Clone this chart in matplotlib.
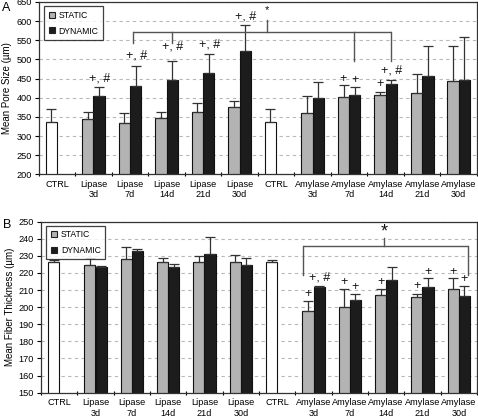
import numpy as np
import matplotlib
matplotlib.use("Agg")
import matplotlib.pyplot as plt
from matplotlib.lines import Line2D

plt.rcParams['font.family'] = ['Liberation Sans', 'DejaVu Sans']

categories = ["CTRL", "Lipase\n3d", "Lipase\n7d", "Lipase\n14d", "Lipase\n21d", "Lipase\n30d",
              "CTRL", "Amylase\n3d", "Amylase\n7d", "Amylase\n14d", "Amylase\n21d", "Amylase\n30d"]

# Panel A: mean pore size (um)
a_ctrl = 337
a_ctrl_err = 33
a_lip_static = [344, 334, 346, 362, 376]
a_lip_static_err = [20, 25, 16, 25, 16]
a_lip_dyn = [404, 430, 446, 465, 523]
a_lip_dyn_err = [25, 53, 49, 48, 66]
a_amy_static = [359, 401, 406, 413, 444]
a_amy_static_err = [45, 31, 9, 50, 90]
a_amy_dyn = [398, 406, 436, 457, 446]
a_amy_dyn_err = [43, 23, 9, 77, 112]

# Panel B: mean fiber thickness (um)
b_ctrl = 226.4
b_ctrl_err = 1.2
b_lip_static = [224.5, 228.0, 226.4, 226.4, 226.4]
b_lip_static_err = [4.5, 7.0, 2.6, 3.3, 4.3]
b_lip_dyn = [223.5, 232.8, 223.5, 231.0, 224.8]
b_lip_dyn_err = [0.5, 1.2, 1.9, 10.0, 3.7]
b_amy_static = [197.8, 200.0, 207.3, 205.7, 210.4]
b_amy_static_err = [6.0, 10.8, 3.5, 1.8, 6.8]
b_amy_dyn = [212.0, 204.0, 216.0, 212.0, 206.7]
b_amy_dyn_err = [0.6, 3.5, 7.5, 5.2, 5.5]

# annotations: (category index, series 's'/'d', text, y)
a_notes = [(1, 'd', '+, #', 451), (2, 'd', '+, #', 511), (3, 'd', '+, #', 533),
           (4, 'd', '+, #', 540), (5, 'd', '+, #', 611),
           (8, 's', '+', 449), (8, 'd', '+', 445), (9, 's', '+', 437), (9, 'd', '+, #', 472)]
b_notes = [(7, 's', '+', 208), (7, 'd', '+, #', 217.2), (8, 's', '+', 214.9), (8, 'd', '+', 211.8),
           (9, 's', '+', 214.9), (10, 's', '+', 212.6), (10, 'd', '+', 220.7),
           (11, 's', '+', 220.7), (11, 'd', '+', 216.5)]

# brackets: horizontal level, span, drops (x, y_end), star x, star top, star y
a_bracket = dict(level=571, x0=2.09, x1=9.14,
                 drops=[(2.09, 542), (3.14, 542), (8.12, 497), (9.14, 497)],
                 star_x=5.75, star_top=603, star_y=628, star_size=8)
b_bracket = dict(level=235.8, x0=6.71, x1=11.25,
                 drops=[(6.71, 218.8), (11.25, 218.8)],
                 star_x=8.94, star_top=240.5, star_y=244.2, star_size=13)

STATIC_C = '#b3b3b3'
DYN_C = '#1c1c1c'
EDGE = '#111111'
W = 0.31


def draw(ax, ctrl, ctrl_err, ls, lse, ld, lde, ams, amse, amd, amde, ylim, ystep, ylabel, notes, br):
    x = np.arange(len(categories))
    ctrl_x = [0, 6]
    s_x = [1, 2, 3, 4, 5, 7, 8, 9, 10, 11]
    s_vals = ls + ams
    s_err = lse + amse
    d_vals = ld + amd
    d_err = lde + amde
    ax.set_axisbelow(True)
    ax.yaxis.grid(True, linestyle=(0, (3, 3)), color='#b8b8b8', linewidth=0.8)
    ax.bar(np.array(ctrl_x) - W / 2, [ctrl, ctrl], W, color='white', edgecolor=EDGE, linewidth=0.8)
    ax.bar(np.array(s_x) - W / 2, s_vals, W, color=STATIC_C, edgecolor=EDGE, linewidth=0.8)
    ax.bar(np.array(s_x) + W / 2, d_vals, W, color=DYN_C, edgecolor=EDGE, linewidth=0.8)
    ekw = dict(fmt='none', ecolor='#333333', elinewidth=0.9, capsize=3.5, capthick=0.9)
    ax.errorbar(np.array(ctrl_x) - W / 2, [ctrl, ctrl],
                yerr=[[0, 0], [ctrl_err, ctrl_err]], **ekw)
    ax.errorbar(np.array(s_x) - W / 2, s_vals, yerr=[np.zeros(len(s_err)), s_err], **ekw)
    ax.errorbar(np.array(s_x) + W / 2, d_vals, yerr=[np.zeros(len(d_err)), d_err], **ekw)

    for ci, ser, txt, yv in notes:
        xx = ci - W / 2 if ser == 's' else ci + W / 2
        if txt != '+':
            xx += 0.02
        ax.text(xx, yv, txt, ha='center', va='center', fontsize=9, color='#111111')

    lc = '#555555'
    ax.plot([br['x0'], br['x1']], [br['level'], br['level']], color=lc, lw=1.0, solid_capstyle='butt')
    for dx, dy in br['drops']:
        ax.plot([dx, dx], [br['level'], dy], color=lc, lw=1.0)
    ax.plot([br['star_x'], br['star_x']], [br['level'], br['star_top']], color=lc, lw=1.0)
    ax.text(br['star_x'], br['star_y'], '*', ha='center', va='center',
            fontsize=br['star_size'], color='#111111')

    ax.set_xlim(-0.5, len(categories) - 0.5)
    ax.set_ylim(*ylim)
    ax.set_yticks(np.arange(ylim[0], ylim[1] + 0.1, ystep))
    ax.set_xticks(np.arange(-0.5, len(categories) - 0.4, 1))
    ax.set_xticklabels([])
    ax.set_xticks(x, minor=True)
    ax.set_xticklabels(categories, minor=True, fontsize=6.6, va='top')
    ax.tick_params(axis='x', which='minor', length=0, pad=4)
    ax.tick_params(axis='x', which='major', length=3, direction='inout', width=0.8)
    ax.tick_params(axis='y', length=3, width=0.8, labelsize=6.6, pad=2)
    for s in ax.spines.values():
        s.set_color('#333333')
        s.set_linewidth(0.9)
    ax.set_ylabel(ylabel, fontsize=7, labelpad=3)

    handles = [Line2D([], [], marker='s', linestyle='none', markersize=4.5,
                      markerfacecolor=STATIC_C, markeredgecolor='#222222', markeredgewidth=0.8),
               Line2D([], [], marker='s', linestyle='none', markersize=4.5,
                      markerfacecolor=DYN_C, markeredgecolor='#222222', markeredgewidth=0.8)]
    leg = ax.legend(handles, ['STATIC', 'DYNAMIC'], loc='upper left', bbox_to_anchor=(0.012, 0.975),
                    fontsize=6.2, frameon=True, fancybox=False, handlelength=0.8, handletextpad=0.4,
                    borderpad=0.5, labelspacing=0.8, borderaxespad=0)
    leg.get_frame().set_edgecolor('#111111')
    leg.get_frame().set_linewidth(0.9)


fig = plt.figure(figsize=(4.78, 4.18), dpi=100)
axA = fig.add_axes([38.7 / 478, 1 - 174.3 / 418, (477 - 38.7) / 478, (174.3 - 2) / 418])
axB = fig.add_axes([41 / 478, 1 - 392.7 / 418, (477 - 41) / 478, (392.7 - 221.7) / 418])

draw(axA, a_ctrl, a_ctrl_err, a_lip_static, a_lip_static_err, a_lip_dyn, a_lip_dyn_err,
     a_amy_static, a_amy_static_err, a_amy_dyn, a_amy_dyn_err, (200, 650), 50,
     'Mean Pore Size (µm)', a_notes, a_bracket)
draw(axB, b_ctrl, b_ctrl_err, b_lip_static, b_lip_static_err, b_lip_dyn, b_lip_dyn_err,
     b_amy_static, b_amy_static_err, b_amy_dyn, b_amy_dyn_err, (150, 250), 10,
     'Mean Fiber Thickness (µm)', b_notes, b_bracket)

fig.text(2 / 478, 1 - 8 / 418, 'A', fontsize=9, va='center', ha='left')
fig.text(3 / 478, 1 - 225 / 418, 'B', fontsize=9, va='center', ha='left')

fig.savefig('out.png', dpi=100)
